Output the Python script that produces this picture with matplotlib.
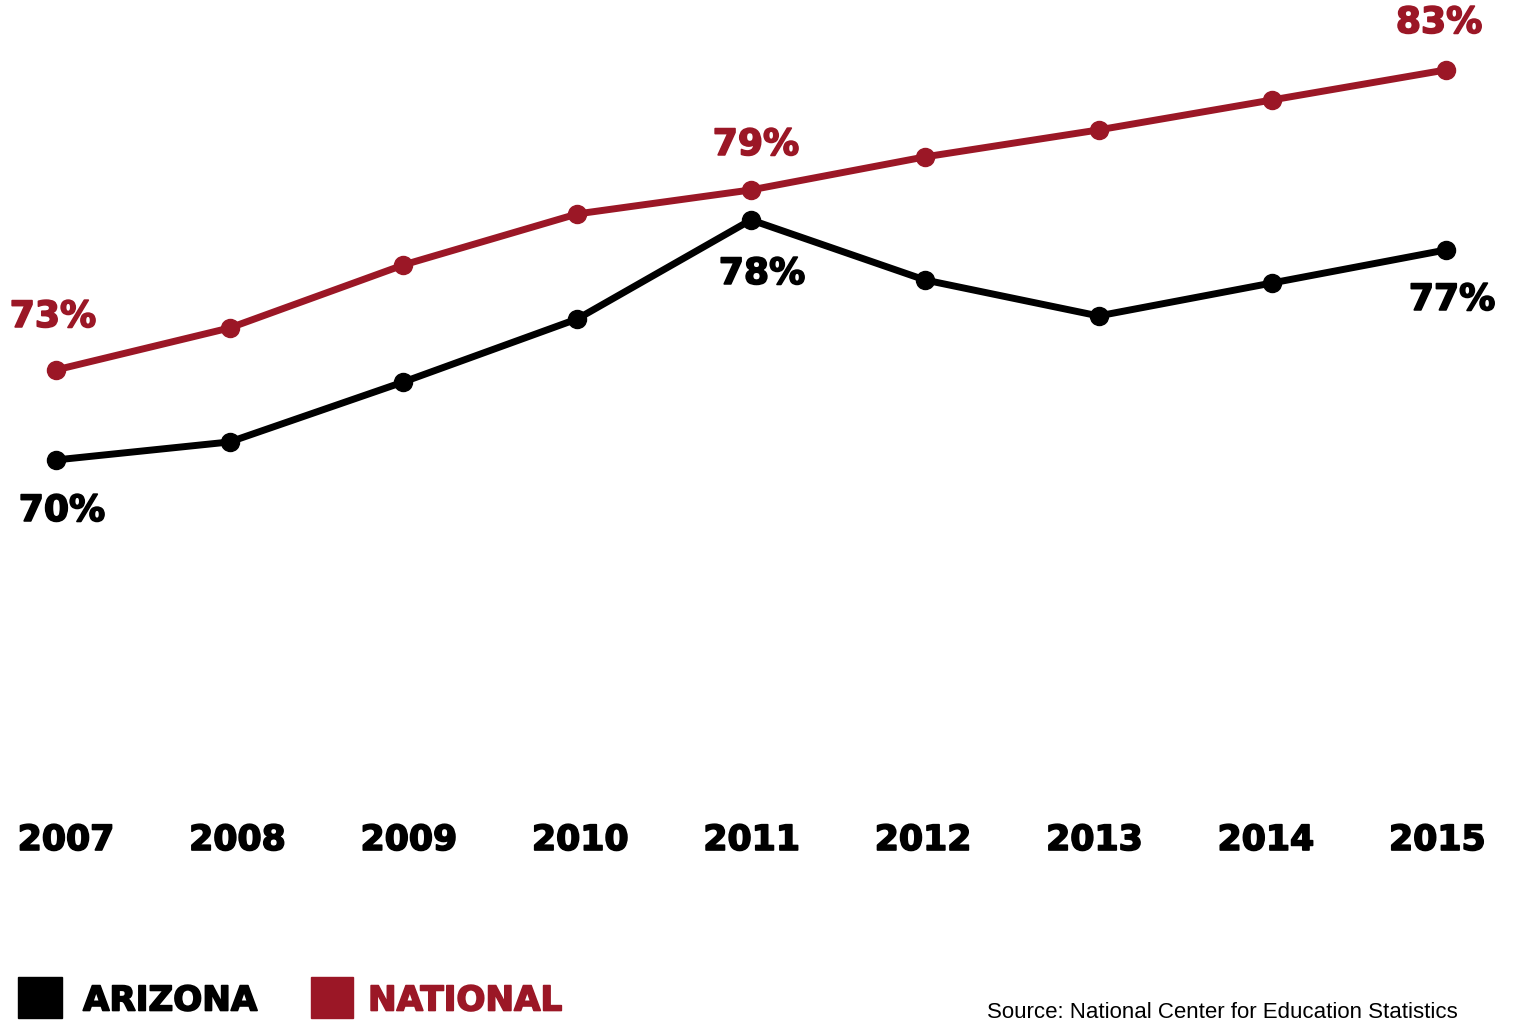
import matplotlib.pyplot as plt
import matplotlib.patheffects as pe
from matplotlib.patches import Rectangle

# graduation rates, percent
years = [2007, 2008, 2009, 2010, 2011, 2012, 2013, 2014, 2015]
arizona = [70, 70.6, 72.6, 74.7, 78, 76.0, 74.8, 75.9, 77]
national = [73, 74.4, 76.5, 78.2, 79, 80.1, 81.0, 82.0, 83]

red = '#9b1726'
black = '#000000'
W, H = 1514, 1024

fig = plt.figure(figsize=(W / 100, H / 100), dpi=100)
ax = fig.add_axes([0, 0, 1, 1])
ax.set_xlim(2006.678, 2015.391)
ax.set_ylim(51.2, 85.33)
ax.axis('off')

ax.plot(years, national, color=red, lw=5, marker='o', ms=13, solid_capstyle='round')
ax.plot(years, arizona, color=black, lw=5, marker='o', ms=13, solid_capstyle='round')


def heavy(color):
    # a thin outline makes the bold face look heavier
    return [pe.withStroke(linewidth=1.2, foreground=color)]


bold = dict(family='DejaVu Sans', fontweight='bold', fontsize=26, ha='center', va='center')


# value labels at first, peak and last points
def label(i, vals, color, dx, dy):
    ax.annotate(f'{vals[i]:.0f}%', (years[i], vals[i]), xytext=(dx, dy),
                textcoords='offset pixels', color=color,
                path_effects=heavy(color), **bold)


label(0, national, red, -3, 53)
label(4, national, red, 5, 45)
label(8, national, red, -7, 47)
label(0, arizona, black, 6, -51)
label(4, arizona, black, 11, -54)
label(8, arizona, black, 6, -50)

# year labels along the bottom
for i, y in enumerate(years):
    fig.text((66 + i * 171.4) / W, 1 - 840 / H, str(y), color=black,
             family='DejaVu Sans', fontweight='bold', fontsize=25,
             ha='center', va='center', path_effects=heavy(black))

# legend
fig.patches.append(Rectangle((18 / W, 1 - 1018 / H), 44 / W, 41 / H,
                             transform=fig.transFigure, color=black))
fig.patches.append(Rectangle((311 / W, 1 - 1018 / H), 42 / W, 41 / H,
                             transform=fig.transFigure, color=red))
fig.text(83 / W, 1 - 1001 / H, 'ARIZONA', color=black, family='DejaVu Sans',
         fontweight='bold', fontsize=24.6, ha='left', va='center',
         path_effects=heavy(black))
fig.text(368 / W, 1 - 1001 / H, 'NATIONAL', color=red, family='DejaVu Sans',
         fontweight='bold', fontsize=24.6, ha='left', va='center',
         path_effects=heavy(red))

fig.text(1458 / W, 1 - 1012 / H, 'Source: National Center for Education Statistics',
         family='Liberation Sans', fontsize=16, color=black, ha='right', va='center')

fig.savefig('out.png', dpi=100, facecolor='white')
